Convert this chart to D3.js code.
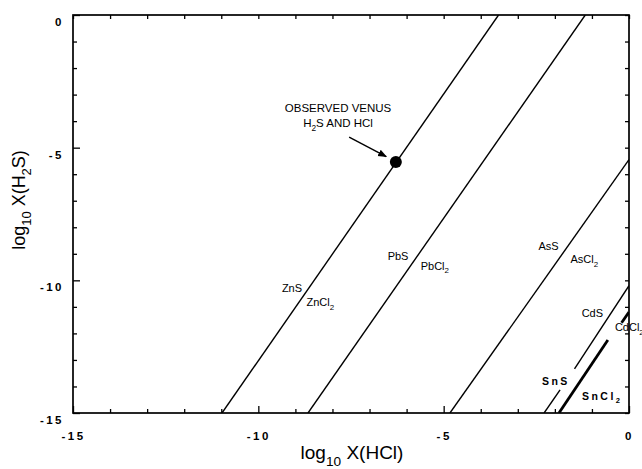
<!DOCTYPE html>
<html><head><meta charset="utf-8">
<script src="https://cdn.jsdelivr.net/npm/d3@7"></script>
<style>
html,body{margin:0;padding:0;background:#fff;}
svg{display:block;}
text{font-family:"Liberation Sans",Arial,Helvetica,sans-serif;fill:#000;}
</style></head><body>
<svg id="chart" width="642" height="469"></svg>
<script>
// ---- data (log10 mole fractions) ----
const xDomain = [-15, 0];           // log10 X(HCl)
const yDomain = [-15, 0];           // log10 X(H2S)
const majorTicks = [-15, -10, -5, 0];
const minorTicks = [-14, -13, -12, -11, -9, -8, -7, -6, -4, -3, -2, -1];

// boundary lines: [log X(HCl), log X(H2S)]
const boundaryZn = [[[-10.98, -15], [-3.52, 0]]];
const boundaryPb = [[[-8.66, -15], [-1.18, 0]]];
const boundaryAs = [[[-4.83, -15], [0, -5.45]]];
const boundaryCd = [[[-2.29, -15], [-1.86, -14.13]], [[-1.47, -13.34], [0, -10.2]]];
const boundarySn = [[[-1.89, -15], [-0.57, -12.25]], [[-0.2, -11.6], [0, -11.2]]];

const observedPoint = [-6.29, -5.54];
const arrowFrom = [-7.55, -4.6];
const arrowTo = [-6.55, -5.34];

// phase labels: parts (sub = subscript), anchor point in data units
const phaseLabels = [
  {parts: [["ZnS"]], at: [-8.82, -10.29], anchor: "end", bold: false},
  {parts: [["ZnCl"], ["2", 1]], at: [-8.7, -10.82], anchor: "start", bold: false},
  {parts: [["PbS"]], at: [-5.95, -9.1], anchor: "end", bold: false},
  {parts: [["PbCl"], ["2", 1]], at: [-5.62, -9.45], anchor: "start", bold: false},
  {parts: [["AsS"]], at: [-1.9, -8.72], anchor: "end", bold: false},
  {parts: [["AsCl"], ["2", 1]], at: [-1.58, -9.2], anchor: "start", bold: false},
  {parts: [["CdS"]], at: [-0.7, -11.23], anchor: "end", bold: false},
  {parts: [["CdCl"], ["2", 1]], at: [-0.38, -11.76], anchor: "start", bold: false},
  {parts: [["SnS"]], at: [-2.35, -13.8], anchor: "start", bold: true},
  {parts: [["SnCl"], ["2", 1]], at: [-1.27, -14.36], anchor: "start", bold: true}
];
const noteLines = [[["OBSERVED VENUS"]], [["H"], ["2", 1], ["S AND HCl"]]];
const noteAt = [-7.85, -3.5];

// ---- layout ----
const W = 642, H = 469;
const m = {top: 15, right: 13, bottom: 56, left: 73};
const svg = d3.select("#chart");
const x = d3.scaleLinear().domain(xDomain).range([m.left, W - m.right]);
const y = d3.scaleLinear().domain(yDomain).range([H - m.bottom, m.top]);
const fmt = d => String(d);

function rich(sel, parts, size) {
  parts.forEach(p => {
    const t = sel.append("tspan").text(p[0]);
    if (p[1]) { t.attr("dy", size * 0.35).attr("font-size", size * 0.72); }
    else if (sel.selectAll("tspan").size() > 1) { t.attr("dy", -size * 0.35); }
  });
}

svg.append("defs").append("clipPath").attr("id", "clip")
  .append("rect").attr("x", m.left).attr("y", m.top)
  .attr("width", W - m.left - m.right).attr("height", H - m.top - m.bottom);
const marker = svg.select("defs").append("marker").attr("id", "arrow")
  .attr("viewBox", "0 0 10 10").attr("refX", 9).attr("refY", 5)
  .attr("markerWidth", 9).attr("markerHeight", 9).attr("markerUnits", "userSpaceOnUse")
  .attr("orient", "auto");
marker.append("path").attr("d", "M0,1 L10,5 L0,9 Z").attr("fill", "#000");

// ---- axes ----
function styleAxis(g) {
  g.selectAll("line").attr("stroke", "#000").attr("stroke-width", 1.3);
  g.selectAll("path.domain").remove();
  g.selectAll("text").attr("font-size", 11.5).attr("font-weight", "bold")
    .style("letter-spacing", "2.5px").attr("fill", "#000");
}
svg.append("g").attr("transform", `translate(0,${H - m.bottom})`)
  .call(d3.axisBottom(x).tickValues(minorTicks).tickSize(-4).tickFormat("")).call(styleAxis);
svg.append("g").attr("transform", `translate(0,${H - m.bottom})`)
  .call(d3.axisBottom(x).tickValues(majorTicks).tickSize(-7).tickPadding(19).tickFormat(fmt)).call(styleAxis);
svg.append("g").attr("transform", `translate(${m.left},0)`)
  .call(d3.axisLeft(y).tickValues(minorTicks).tickSize(-4).tickFormat("")).call(styleAxis);
const yl = svg.append("g").attr("transform", `translate(${m.left},0)`)
  .call(d3.axisLeft(y).tickValues(majorTicks).tickSize(-7).tickPadding(9).tickFormat(fmt)).call(styleAxis);
yl.selectAll("text").attr("dy", "0.9em");
svg.append("g").attr("transform", `translate(0,${m.top})`)
  .call(d3.axisTop(x).tickValues(d3.range(-15, 1)).tickSize(-4).tickFormat("")).call(styleAxis);
svg.append("g").attr("transform", `translate(${W - m.right},0)`)
  .call(d3.axisRight(y).tickValues(d3.range(-15, 1)).tickSize(-4).tickFormat("")).call(styleAxis);

svg.append("rect").attr("x", m.left).attr("y", m.top)
  .attr("width", W - m.left - m.right).attr("height", H - m.top - m.bottom)
  .attr("fill", "none").attr("stroke", "#000").attr("stroke-width", 1.7);

// ---- boundary lines ----
const line = d3.line().x(d => x(d[0])).y(d => y(d[1]));
const plot = svg.append("g").attr("clip-path", "url(#clip)");
[boundaryZn, boundaryPb, boundaryAs, boundaryCd].forEach(segs => {
  plot.selectAll(null).data(segs).join("path").attr("d", line)
    .attr("fill", "none").attr("stroke", "#000").attr("stroke-width", 1.4);
});
plot.selectAll(null).data(boundarySn).join("path").attr("d", line)
  .attr("fill", "none").attr("stroke", "#000").attr("stroke-width", 2.8);

// ---- phase labels ----
phaseLabels.forEach(l => {
  const size = l.bold ? 10.5 : 11;
  const t = svg.append("text").attr("x", x(l.at[0])).attr("y", y(l.at[1]))
    .attr("dy", "0.35em").attr("text-anchor", l.anchor).attr("font-size", size)
    .attr("font-weight", l.bold ? "bold" : "normal")
    .style("letter-spacing", l.bold ? "2.5px" : "0px");
  rich(t, l.parts, size);
});

// ---- observation ----
noteLines.forEach((parts, i) => {
  const t = svg.append("text").attr("x", x(noteAt[0])).attr("y", y(noteAt[1]) + i * 15)
    .attr("dy", "0.35em").attr("text-anchor", "middle").attr("font-size", 11.5);
  rich(t, parts, 11.5);
});
svg.append("line").attr("x1", x(arrowFrom[0])).attr("y1", y(arrowFrom[1]))
  .attr("x2", x(arrowTo[0])).attr("y2", y(arrowTo[1]))
  .attr("stroke", "#000").attr("stroke-width", 1.4).attr("marker-end", "url(#arrow)");
svg.append("circle").attr("cx", x(observedPoint[0])).attr("cy", y(observedPoint[1]))
  .attr("r", 6).attr("fill", "#000");

// ---- axis titles ----
const xt = svg.append("text").attr("x", 352).attr("y", 459).attr("text-anchor", "middle").attr("font-size", 19);
rich(xt, [["log"], ["10", 1], [" X(HCl)"]], 19);
const ytg = svg.append("g").attr("transform", `translate(25,200) rotate(-90)`);
const yt = ytg.append("text").attr("text-anchor", "middle").attr("font-size", 18);
rich(yt, [["log"], ["10", 1], [" X(H"], ["2", 1], ["S)"]], 18);
</script>
</body></html>
